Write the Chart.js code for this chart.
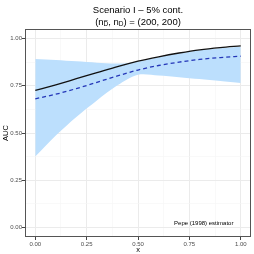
<!DOCTYPE html>
<html><head><meta charset="utf-8">
<script src="https://cdn.jsdelivr.net/npm/chart.js@4"></script>
<style>html,body{margin:0;padding:0;background:#fff}#c{display:block}</style>
</head><body>
<div style="width:254px;height:254px"><canvas id="c" width="254" height="254"></canvas></div>
<script>
const xs = [0, 0.1, 0.2, 0.3, 0.4, 0.5, 0.6, 0.7, 0.8, 0.9, 1.0];
const trueAUC = [0.725, 0.755, 0.787, 0.819, 0.851, 0.880, 0.903, 0.923, 0.940, 0.952, 0.961];
const meanEst = [0.681, 0.705, 0.735, 0.768, 0.802, 0.833, 0.857, 0.875, 0.889, 0.899, 0.906];
const bandUpper = [0.892, 0.886, 0.879, 0.872, 0.867, 0.877, 0.900, 0.920, 0.937, 0.948, 0.956];
const bandLower = [0.376, 0.487, 0.585, 0.672, 0.752, 0.808, 0.804, 0.795, 0.785, 0.775, 0.764];
const xTicks = [0, 0.25, 0.5, 0.75, 1.0];
const yTicks = [0, 0.25, 0.5, 0.75, 1.0];
const titleText = "Scenario I \u2013 5% cont.";
const noteText = "Pepe (1998) estimator";
const noteAt = {x: 0.82, y: 0.021};

const pts = arr => xs.map((x, i) => ({x: x, y: arr[i]}));
const fmt = v => v.toFixed(2);
const isMajor = v => yTicks.some(t => Math.abs(t - v) < 1e-6);

const FONT = "'Liberation Sans', Arial, sans-serif";

const deco = {
  id: 'deco',
  afterDraw(chart) {
    const c = chart.ctx, a = chart.chartArea;
    c.save();
    c.strokeStyle = '#555';
    c.lineWidth = 1;
    c.strokeRect(a.left + 0.5, a.top + 0.5, a.right - a.left - 1, a.bottom - a.top - 1);
    c.fillStyle = '#000';
    c.textAlign = 'center';
    c.textBaseline = 'middle';
    c.font = '9.5px ' + FONT;
    const cx = (a.left + a.right) / 2;
    c.fillText(titleText, cx, 10);
    const big = '9.5px ' + FONT, small = '6.5px ' + FONT;
    const parts = [['(n', big, 0], ['D\u0305', small, 2.5], [', n', big, 0], ['D', small, 2.5], [') = (200, 200)', big, 0]];
    let w = 0;
    parts.forEach(p => { c.font = p[1]; w += c.measureText(p[0]).width; });
    let x = cx - w / 2;
    c.textAlign = 'left';
    parts.forEach(p => { c.font = p[1]; c.fillText(p[0], x, 22 + p[2]); x += c.measureText(p[0]).width; });
    c.font = '6px ' + FONT;
    c.textAlign = 'center';
    const xs_ = chart.scales.x, ys_ = chart.scales.y;
    c.fillText(noteText, xs_.getPixelForValue(noteAt.x), ys_.getPixelForValue(noteAt.y));
    c.restore();
  }
};

const gridCfg = {
  color: ctx => (ctx.tick && isMajor(ctx.tick.value)) ? '#ebebeb' : '#f5f5f5',
  lineWidth: ctx => (ctx.tick && isMajor(ctx.tick.value)) ? 1 : 0.6,
  tickColor: ctx => (ctx.tick && isMajor(ctx.tick.value)) ? '#444' : 'rgba(0,0,0,0)',
  tickLength: 3,
  drawTicks: true
};

new Chart(document.getElementById('c'), {
  type: 'line',
  data: {
    datasets: [
      {data: pts(bandUpper), borderWidth: 0, pointRadius: 0, backgroundColor: '#bcdffd', fill: '+1', tension: 0.3, order: 4},
      {data: pts(bandLower), borderWidth: 0, pointRadius: 0, fill: false, tension: 0.3, order: 3},
      {data: pts(trueAUC), borderColor: '#111', borderWidth: 1.3, pointRadius: 0, fill: false, cubicInterpolationMode: 'monotone', order: 1},
      {data: pts(meanEst), borderColor: '#2436b8', borderWidth: 1.3, borderDash: [4, 3], pointRadius: 0, fill: false, cubicInterpolationMode: 'monotone', order: 2}
    ]
  },
  options: {
    responsive: false,
    animation: false,
    events: [],
    layout: {padding: {top: 29, right: 3, left: 1, bottom: 0}},
    plugins: {legend: {display: false}, tooltip: {enabled: false}, title: {display: false}, filler: {drawTime: 'beforeDatasetsDraw'}},
    scales: {
      x: {
        type: 'linear', min: -0.05, max: 1.05,
        afterBuildTicks: s => { s.ticks = [0, 0.125, 0.25, 0.375, 0.5, 0.625, 0.75, 0.875, 1.0].map(v => ({value: v})); },
        ticks: {autoSkip: false, maxRotation: 0, padding: 1, color: '#4d4d4d', font: {family: FONT, size: 6},
          callback: v => xTicks.some(t => Math.abs(t - v) < 1e-6) ? fmt(v) : ''},
        grid: gridCfg,
        border: {display: false},
        title: {display: true, text: 'x', color: '#000', font: {family: FONT, size: 7.5}, padding: {top: 0, bottom: 0}},
        afterFit: s => { s.height = 17; }
      },
      y: {
        type: 'linear', min: -0.05, max: 1.05,
        afterBuildTicks: s => { s.ticks = [0, 0.125, 0.25, 0.375, 0.5, 0.625, 0.75, 0.875, 1.0].map(v => ({value: v})); },
        ticks: {autoSkip: false, padding: 0, color: '#4d4d4d', font: {family: FONT, size: 6},
          callback: v => yTicks.some(t => Math.abs(t - v) < 1e-6) ? fmt(v) : ''},
        grid: gridCfg,
        border: {display: false},
        title: {display: true, text: 'AUC', color: '#000', font: {family: FONT, size: 7.5}, padding: {top: 0, bottom: 1}},
        afterFit: s => { s.width = 24; }
      }
    }
  },
  plugins: [deco]
});
</script>
</body></html>
